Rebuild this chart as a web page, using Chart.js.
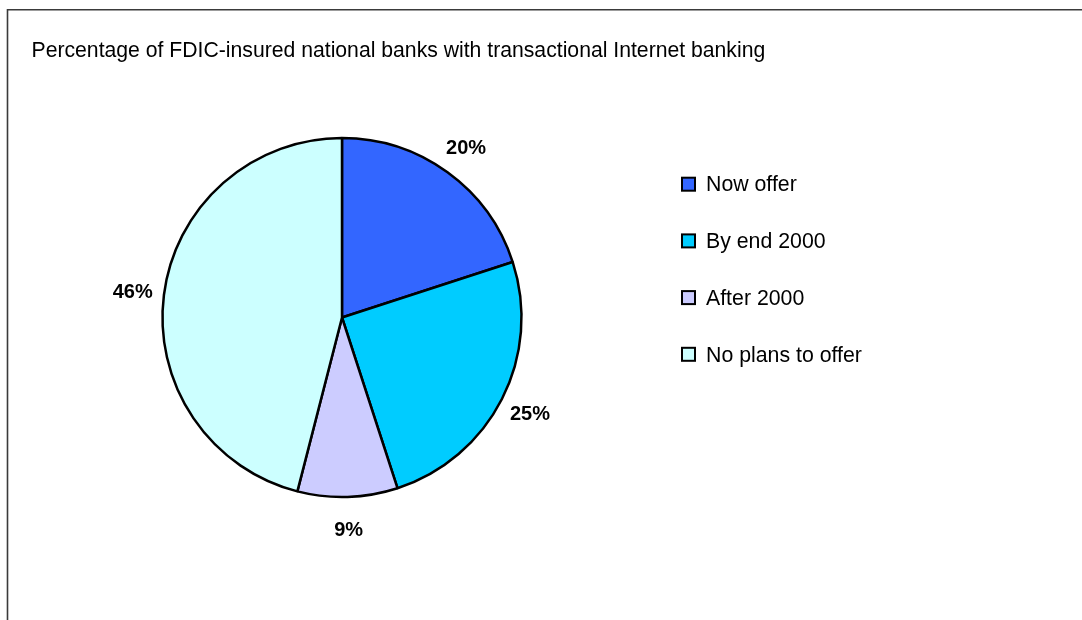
<!DOCTYPE html>
<html>
<head>
<meta charset="utf-8">
<script src="https://cdn.jsdelivr.net/npm/chart.js@4/dist/chart.umd.min.js"></script>
<style>
  html, body { margin: 0; padding: 0; background: #ffffff; }
  #wrap { width: 1082px; height: 620px; }
</style>
</head>
<body>
<div id="wrap"><canvas id="c" width="1082" height="620"></canvas></div>
<script>
const titleText = "Percentage of FDIC-insured national banks with transactional Internet banking";
const categories = ["Now offer", "By end 2000", "After 2000", "No plans to offer"];
const values = [20, 25, 9, 46];
const valueLabels = ["20%", "25%", "9%", "46%"];
const colors = ["#3366FF", "#00CCFF", "#CCCCFF", "#CCFFFF"];

const FONT = "'Liberation Sans', Arial, sans-serif";

const decor = {
  id: 'decor',
  beforeDraw(chart) {
    const ctx = chart.ctx;
    ctx.save();
    ctx.fillStyle = '#ffffff';
    ctx.fillRect(0, 0, chart.width, chart.height);
    ctx.strokeStyle = '#3a3a3a';
    ctx.lineWidth = 1.6;
    ctx.beginPath();
    ctx.moveTo(chart.width, 9.8);
    ctx.lineTo(7.5, 9.8);
    ctx.lineTo(7.5, chart.height);
    ctx.stroke();
    ctx.restore();
  },
  afterDraw(chart) {
    const ctx = chart.ctx;
    ctx.save();
    // title
    ctx.fillStyle = '#000000';
    ctx.font = "21.2px " + FONT;
    ctx.textAlign = 'left';
    ctx.textBaseline = 'alphabetic';
    ctx.fillText(titleText, 31.5, 57);

    // data labels
    const meta = chart.getDatasetMeta(0);
    ctx.font = "bold 20px " + FONT;
    ctx.textAlign = 'center';
    meta.data.forEach((arc, i) => {
      const p = arc.getProps(['x', 'y', 'startAngle', 'endAngle', 'outerRadius'], true);
      const mid = (p.startAngle + p.endAngle) / 2;
      const r = p.outerRadius + 31.5;
      const lx = p.x + Math.cos(mid) * r;
      const ly = p.y + Math.sin(mid) * r;
      ctx.fillText(valueLabels[i], lx, ly + 7.2);
    });

    // legend
    const lx0 = 682, ty0 = 184.2, step = 56.7, box = 13;
    ctx.font = "21.3px " + FONT;
    ctx.textAlign = 'left';
    categories.forEach((cat, i) => {
      const cy = ty0 + i * step;
      ctx.fillStyle = colors[i];
      ctx.fillRect(lx0, cy - box / 2, box, box);
      ctx.strokeStyle = '#000000';
      ctx.lineWidth = 2;
      ctx.strokeRect(lx0, cy - box / 2, box, box);
      ctx.fillStyle = '#000000';
      ctx.fillText(cat, 706, cy + 7.2);
    });
    ctx.restore();
  }
};

new Chart(document.getElementById('c'), {
  type: 'pie',
  data: {
    labels: categories,
    datasets: [{
      data: values,
      backgroundColor: colors,
      borderColor: '#000000',
      borderWidth: 2.5,
      radius: 179.5
    }]
  },
  options: {
    responsive: false,
    animation: false,
    devicePixelRatio: 1,
    layout: { padding: { left: 161.5, right: 559.5, top: 137, bottom: 122 } },
    plugins: {
      legend: { display: false },
      title: { display: false },
      tooltip: { enabled: false }
    }
  },
  plugins: [decor]
});
</script>
</body>
</html>
